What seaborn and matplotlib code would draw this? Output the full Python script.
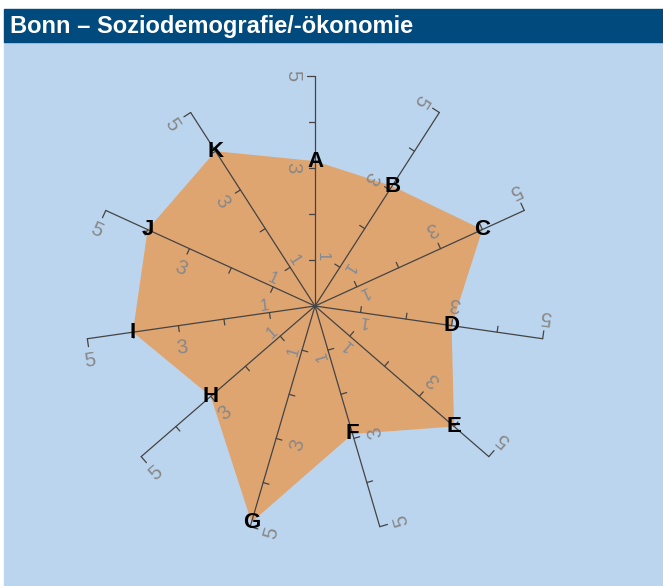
import numpy as np
import pandas as pd
import seaborn as sns
import matplotlib.pyplot as plt
from matplotlib.patches import Rectangle

# data
categories = ["A", "B", "C", "D", "E", "F", "G", "H", "I", "J", "K"]
values = [3.15, 3.1, 4.0, 3.0, 4.0, 2.9, 4.9, 3.0, 4.0, 4.0, 4.0]
tick_values = [1, 2, 3, 4, 5]
tick_labels = {1: "1", 3: "3", 5: "5"}
title = "Bonn – Soziodemografie/-ökonomie"

sns.set_style("white")
plt.rcParams["font.family"] = ["Liberation Sans", "DejaVu Sans"]

W, H = 663, 586
fig = plt.figure(figsize=(W / 100, H / 100), dpi=100)
fig.patch.set_facecolor("white")

px = 46.0            # pixels per scale unit
cx, cy = 315, 306    # chart centre (pixels from top-left)
top = 42             # bottom of the title bar

# backgrounds
fig.patches.append(Rectangle((4 / W, 0), (W - 4) / W, (H - top) / H,
                             transform=fig.transFigure, color="#bbd5ee", zorder=0))
fig.patches.append(Rectangle((4 / W, (H - top) / H), (W - 4) / W, 33 / H,
                             transform=fig.transFigure, color="#004a7d", zorder=0))
fig.text(10 / W, (H - 26) / H, title, color="white", fontsize=17,
         fontweight="bold", ha="left", va="center")

ax = fig.add_axes([4 / W, 0, (W - 4) / W, (H - top) / H])
ax.set_zorder(2)
ax.set_xlim((4 - cx) / px, (W - cx) / px)
ax.set_ylim(-(H - cy) / px, (cy - top) / px)
ax.axis("off")

n = len(categories)
theta = np.pi / 2 - 2 * np.pi * np.arange(n) / n
d = np.column_stack([np.cos(theta), np.sin(theta)])
p = np.column_stack([-np.sin(theta), np.cos(theta)])   # counter-clockwise side
vals = np.array(values)

# filled profile
ax.fill(vals * d[:, 0], vals * d[:, 1], color="#dfa571", lw=0, zorder=1)

# spokes
spokes = pd.DataFrame({
    "x": np.concatenate([[0, 5 * d[i, 0]] for i in range(n)]),
    "y": np.concatenate([[0, 5 * d[i, 1]] for i in range(n)]),
    "axis": np.repeat(categories, 2),
})
sns.lineplot(data=spokes, x="x", y="y", units="axis", estimator=None, sort=False,
             color="#444444", lw=0.9, ax=ax, zorder=2)

for i in range(n):
    rot = np.degrees(theta[i]) + 180
    rot = (rot + 180) % 360 - 180
    for t in tick_values:
        L = (8 if t == 5 else 6) / px
        x0, y0 = t * d[i]
        ax.plot([x0, x0 + L * p[i, 0]], [y0, y0 + L * p[i, 1]],
                color="#444444", lw=0.9, zorder=2)
    for t, lab in tick_labels.items():
        if t == 1:
            pos = 1.08 * d[i] - 0.16 * p[i]
            ax.text(*pos, lab, fontsize=12, color="#7f8b99", rotation=rot,
                    rotation_mode="anchor", ha="center", va="center", zorder=3)
        else:
            pos = t * d[i] + (22 / px) * p[i]
            ax.text(*pos, lab, fontsize=14.5, color="#888888", rotation=rot,
                    rotation_mode="anchor", ha="center", va="center", zorder=3)
    ax.text(*(vals[i] * d[i]), categories[i], fontsize=16, fontweight="bold",
            color="black", ha="center", va="center", zorder=4)

fig.savefig("out.png", dpi=100)
